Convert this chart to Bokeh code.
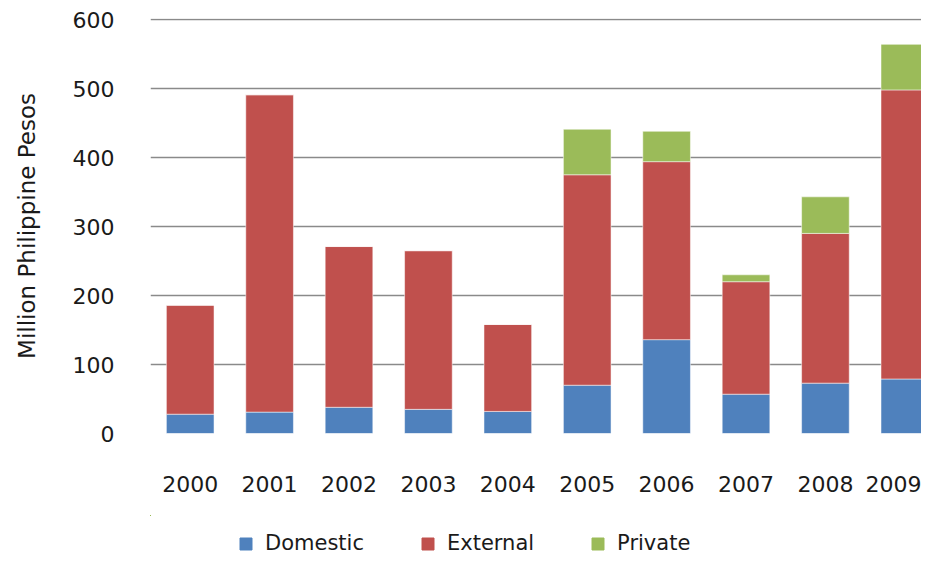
from bokeh.plotting import figure
from bokeh.layouts import column
from bokeh.models import Range1d, Legend, LegendItem, ColumnDataSource, FixedTicker
from bokeh.embed import file_html
from bokeh.resources import INLINE

years = ["2000", "2001", "2002", "2003", "2004", "2005", "2006", "2007", "2008", "2009"]
domestic = [28, 31, 38, 35, 32, 70, 136, 57, 73, 79]
external = [158, 460, 233, 230, 126, 305, 258, 163, 217, 419]
private = [0, 0, 0, 0, 0, 66, 44, 10, 53, 66]
y_ticks = [0, 100, 200, 300, 400, 500, 600]

series = ["Domestic", "External", "Private"]
colors = ["#4F81BD", "#C0504D", "#9BBB59"]

src = ColumnDataSource(dict(
    x=list(range(len(years))),
    Domestic=domestic,
    External=external,
    Private=private,
))

FONT = "DejaVu Sans"

p = figure(width=921, height=515, output_backend="svg", toolbar_location=None,
           x_range=Range1d(-0.5, 9.21), y_range=Range1d(0, 601.5),
           min_border_left=150, min_border_right=0, min_border_top=18,
           min_border_bottom=82)
p.outline_line_color = None
p.background_fill_color = "white"
p.border_fill_color = "white"

renderers = p.vbar_stack(series, x="x", width=0.6, source=src, color=colors,
                         line_color="white", line_alpha=0.5, line_width=1)

p.xgrid.visible = False
p.ygrid.ticker = FixedTicker(ticks=y_ticks)
p.ygrid.grid_line_color = "#8a8a8a"
p.ygrid.grid_line_width = 1.7

p.yaxis.ticker = FixedTicker(ticks=y_ticks)
p.yaxis.axis_line_color = None
p.yaxis.major_tick_line_color = None
p.yaxis.minor_tick_line_color = None
p.yaxis.major_label_standoff = 30
p.yaxis.major_label_text_font = FONT
p.yaxis.major_label_text_font_size = "22px"
p.yaxis.major_label_text_color = "#1a1a1a"
p.yaxis.axis_label = "Million Philippine Pesos"
p.yaxis.axis_label_text_font = FONT
p.yaxis.axis_label_text_font_size = "23px"
p.yaxis.axis_label_text_font_style = "normal"
p.yaxis.axis_label_text_color = "#1a1a1a"
p.yaxis.axis_label_standoff = 30

p.xaxis.ticker = FixedTicker(ticks=list(range(len(years))))
p.xaxis.major_label_overrides = {i: y for i, y in enumerate(years)}
p.xaxis.axis_line_color = None
p.xaxis.major_tick_line_color = None
p.xaxis.minor_tick_line_color = None
p.xaxis.major_label_standoff = 36
p.xaxis.major_label_text_font = FONT
p.xaxis.major_label_text_font_size = "22px"
p.xaxis.major_label_text_color = "#1a1a1a"

# legend strip below the chart (its bars fall outside its own ranges, only swatches show)
lg = figure(width=921, height=43, output_backend="svg", toolbar_location=None,
            x_range=Range1d(100, 101), y_range=Range1d(-2, -1),
            min_border_left=150, min_border_right=0,
            min_border_top=0, min_border_bottom=0)
lg.outline_line_color = None
lg.axis.visible = False
lg.grid.visible = False
swatches = [lg.vbar(x="x", top=s, width=0.6, source=src, fill_color=c, line_color=c)
            for s, c in zip(series, colors)]

legend = Legend(items=[LegendItem(label=s, renderers=[r]) for s, r in zip(series, swatches)],
                orientation="horizontal", location=(88, 3),
                glyph_width=15, glyph_height=15, label_height=20,
                label_standoff=12, spacing=56, padding=0, margin=0,
                border_line_color=None, background_fill_alpha=0,
                label_text_font=FONT, label_text_font_size="21px",
                label_text_color="#1a1a1a")
lg.add_layout(legend, "center")

layout = column(p, lg, spacing=0)
open("out.html", "w").write(file_html(layout, INLINE))
